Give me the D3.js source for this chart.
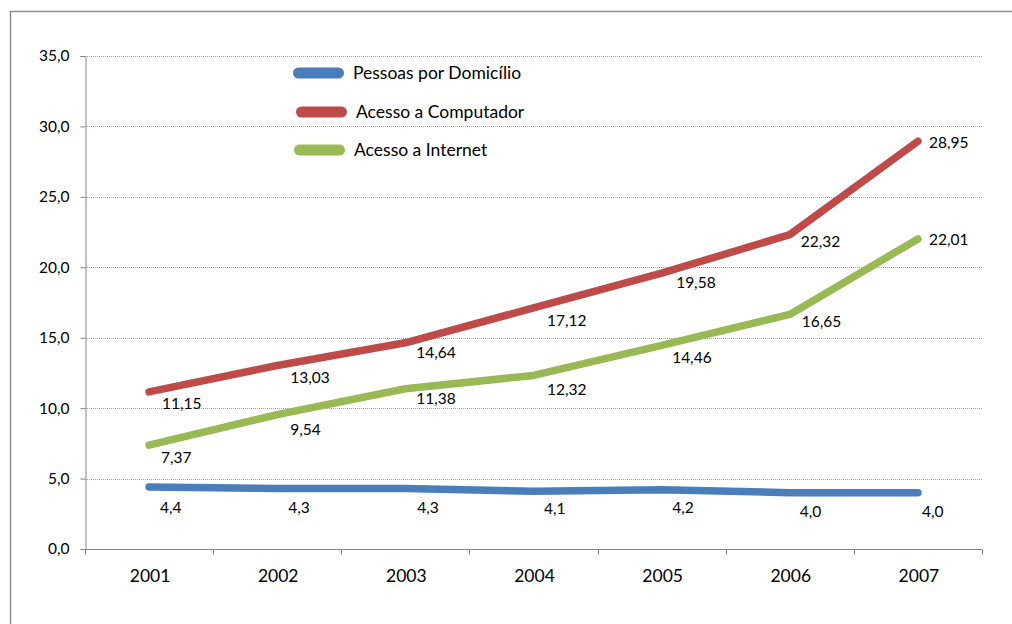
<!DOCTYPE html>
<html>
<head>
<meta charset="utf-8">
<script src="https://cdn.jsdelivr.net/npm/d3@7"></script>
<style>
  html, body { margin: 0; padding: 0; background: #fff; }
  svg { display: block; }
  text { font-family: Lato, "Open Sans", sans-serif; fill: #000; }
</style>
</head>
<body>
<svg id="chart" width="1012" height="624"></svg>
<script>
// ---- data ----
const years = ["2001", "2002", "2003", "2004", "2005", "2006", "2007"];
const pessoas = [4.4, 4.3, 4.3, 4.1, 4.2, 4.0, 4.0];
const computador = [11.15, 13.03, 14.64, 17.12, 19.58, 22.32, 28.95];
const internet = [7.37, 9.54, 11.38, 12.32, 14.46, 16.65, 22.01];
const seriesNames = ["Pessoas por Domicílio", "Acesso a Computador", "Acesso a Internet"];
const yTicks = [0, 5, 10, 15, 20, 25, 30, 35];

// ---- label placement offsets (styling) ----
const labelDx = [
  [11, 11, 12, 10.5, 10.5, 10, 4],
  [13, 13, 11, 13.5, 14.5, 11, 11],
  [12, 13, 11, 13.5, 10.5, 12, 11]
];
const labelDy = [
  [20, 18.6, 18.6, 17, 18, 19, 19],
  [11, 11.5, 10, 13, 9, 6.5, 1],
  [12.5, 14.4, 10, 13.5, 12, 6.5, 0]
];
const colors = ["#4a7ebb", "#be4b48", "#98b954"];
const decimals = [1, 2, 2];

(function () {
const series = [pessoas, computador, internet].map((vals, i) => ({
  name: seriesNames[i], values: vals, color: colors[i], dec: decimals[i], idx: i
}));

const svg = d3.select("#chart");

// outer frame
svg.append("rect")
  .attr("x", 10.5).attr("y", 11.5)
  .attr("width", 1100).attr("height", 700)
  .attr("fill", "none").attr("stroke", "#8c8c8c").attr("stroke-width", 1.5);

const pl = 85, pr = 982, pt = 56, pb = 549;

const x = d3.scaleBand().domain(years).range([pl, pr]).paddingInner(0).paddingOuter(0);
const y = d3.scaleLinear().domain([0, 35]).range([pb, pt]);

const fmt = (v, d) => d3.format("." + d + "f")(v).replace(".", ",");

// gridlines
svg.append("g").selectAll("line")
  .data(yTicks.filter(t => t > 0))
  .join("line")
  .attr("x1", pl).attr("x2", pr)
  .attr("y1", d => Math.round(y(d)) + 0.5).attr("y2", d => Math.round(y(d)) + 0.5)
  .attr("stroke", "#a6a6a6").attr("stroke-width", 1).attr("stroke-dasharray", "1,1");

// y axis
const yAxis = d3.axisLeft(y).tickValues(yTicks).tickSize(5).tickPadding(11)
  .tickFormat(d => fmt(d, 1));
const gy = svg.append("g").attr("transform", `translate(${pl + 0.5},0)`).call(yAxis);
gy.select(".domain").attr("stroke", "#868686");
gy.selectAll(".tick line").attr("stroke", "#868686");
gy.selectAll(".tick text").attr("font-size", "15.5px").attr("fill", "#000")
  .style("font-family", "Lato, 'Open Sans', sans-serif");

// x axis with ticks at band boundaries
const gx = svg.append("g").attr("transform", `translate(0,${pb + 0.5})`);
gx.append("line").attr("x1", pl).attr("x2", pr).attr("stroke", "#868686");
const boundaries = years.map(yr => x(yr)).concat([x(years[years.length - 1]) + x.bandwidth()]);
gx.selectAll("line.tk").data(boundaries).join("line").attr("class", "tk")
  .attr("x1", d => Math.round(d) + 0.5).attr("x2", d => Math.round(d) + 0.5)
  .attr("y1", 0).attr("y2", 5).attr("stroke", "#868686");
gx.selectAll("text").data(years).join("text")
  .attr("x", d => x(d) + x.bandwidth() / 2 + 1)
  .attr("y", 32)
  .attr("text-anchor", "middle")
  .attr("font-size", "17.5px")
  .text(d => d);

// lines
const cx = i => x(years[i]) + x.bandwidth() / 2;
const line = d3.line().x((d, i) => cx(i)).y(d => y(d));

svg.append("g").selectAll("path")
  .data(series)
  .join("path")
  .attr("d", s => line(s.values))
  .attr("fill", "none")
  .attr("stroke", s => s.color)
  .attr("stroke-width", 7.5)
  .attr("stroke-linecap", "round")
  .attr("stroke-linejoin", "round");

// data labels
series.forEach(s => {
  svg.append("g").selectAll("text")
    .data(s.values)
    .join("text")
    .attr("x", (d, i) => cx(i) + labelDx[s.idx][i])
    .attr("y", (d, i) => y(d) + labelDy[s.idx][i])
    .attr("dy", "0.36em")
    .attr("font-size", "15.5px")
    .text(d => fmt(d, s.dec));
});

// legend
const legendX = [293, 296, 294];
const legendY = [73, 112, 150];
const leg = svg.append("g");
series.forEach((s, i) => {
  leg.append("rect")
    .attr("x", legendX[i]).attr("y", legendY[i] - 5.5)
    .attr("width", 51).attr("height", 11)
    .attr("rx", 5.5)
    .attr("fill", s.color);
  leg.append("text")
    .attr("x", legendX[i] + 60)
    .attr("y", legendY[i])
    .attr("dy", "0.36em")
    .attr("font-size", "17.5px")
    .text(s.name);
});
})();
</script>
</body>
</html>
